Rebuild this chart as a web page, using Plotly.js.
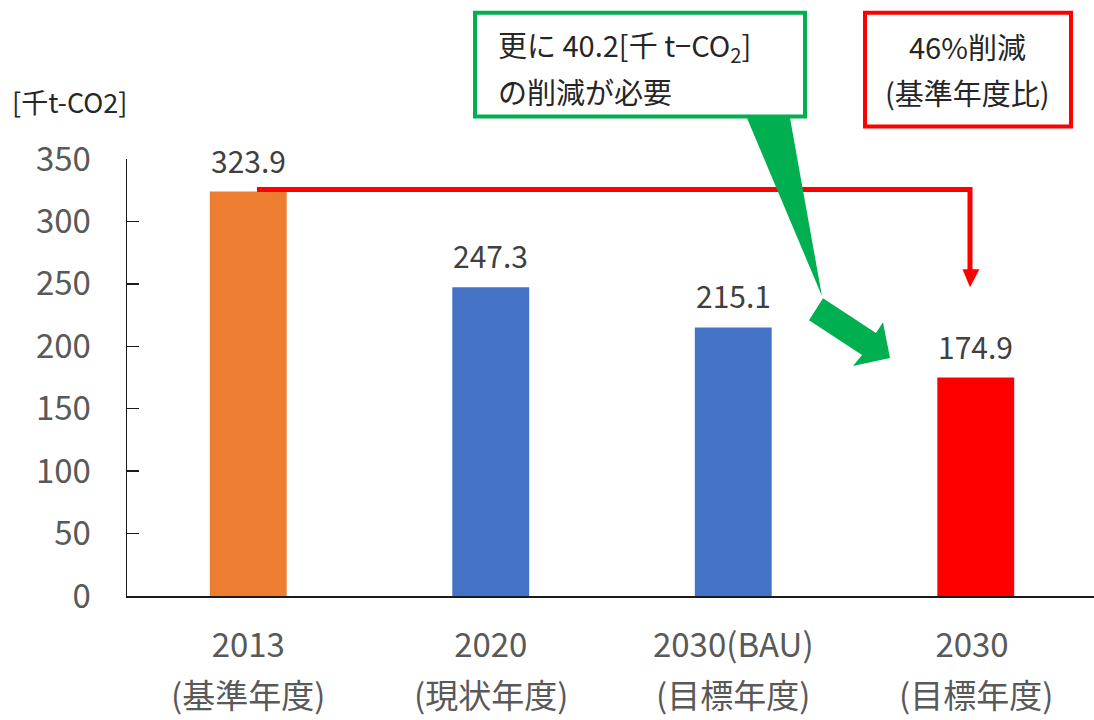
<!DOCTYPE html>
<html>
<head>
<meta charset="utf-8">
<script src="https://cdn.plot.ly/plotly-3.0.1.min.js"></script>
<style>html,body{margin:0;padding:0;background:#fff;}#chart{width:1094px;height:720px;}</style>
</head>
<body>
<div id="chart"></div>
<script>
// ---- data ----
const categories = ["2013", "2020", "2030(BAU)", "2030 "];
const categoryNotes = ["(基準年度)", "(現状年度)", "(目標年度)", "(目標年度)"];
const values = [323.9, 247.3, 215.1, 174.9];
const barColors = ["#ED7D31", "#4472C4", "#4472C4", "#FF0000"];
const yTicks = [0, 50, 100, 150, 200, 250, 300, 350];
const unitLabel = "[千t-CO2]";
const greenLines = ["更に 40.2[千 t−CO<sub>2</sub>]", "の削減が必要"];
const redLines = ["46%削減", "(基準年度比)"];

// ---- layout geometry helpers (pixel -> paper) ----
const W = 1094, H = 720;
const L = 127, R = 0, T = 158.5, B = 123.5;
const pw = W - L - R, ph = H - T - B;
const px = v => (v - L) / pw;
const py = v => (H - B - v) / ph;

const FONT = "'Noto Sans CJK JP', 'Noto Sans', sans-serif";

const trace = {
  type: "bar",
  x: categories,
  y: values,
  marker: {color: barColors},
  width: 0.317,
  hoverinfo: "x+y",
  cliponaxis: false
};

// annotations on a category axis are placed by category index
const labelAnns = values.map((v, i) => ({
  x: i, y: v, xref: "x", yref: "y",
  text: v.toFixed(1), showarrow: false,
  xanchor: "center", yanchor: "bottom", yshift: 8,
  font: {family: FONT, size: 30, color: "#404040"}
}));

const noteAnns = categoryNotes.map((t, i) => ({
  x: i, y: py(695), xref: "x", yref: "paper",
  text: t, showarrow: false,
  xanchor: "center", yanchor: "middle",
  font: {family: FONT, size: 33, color: "#595959"}
}));

const poly = pts => "M " + pts.map(p => px(p[0]) + "," + py(p[1])).join(" L ") + " Z";
const line = pts => "M " + pts.map(p => px(p[0]) + "," + py(p[1])).join(" L ");

const shapes = [
  // red bracket line
  {type: "path", xref: "paper", yref: "paper",
   path: line([[257, 189], [970, 189], [970, 270]]),
   line: {color: "#FF0000", width: 5}},
  {type: "path", xref: "paper", yref: "paper",
   path: poly([[962.5, 269], [979.5, 269], [970, 287]]),
   fillcolor: "#FF0000", line: {color: "#FF0000", width: 0}},
  // green callout box
  {type: "rect", xref: "paper", yref: "paper",
   x0: px(475), x1: px(805), y0: py(12), y1: py(116),
   fillcolor: "#FFFFFF", line: {color: "#00B050", width: 4}},
  {type: "path", xref: "paper", yref: "paper",
   path: poly([[747, 117.5], [790, 117.5], [822, 296]]),
   fillcolor: "#00B050", line: {color: "#00B050", width: 0}},
  // green thick arrow
  {type: "path", xref: "paper", yref: "paper",
   path: poly([[823, 298], [876, 333], [883, 322], [890, 358], [853, 366], [862, 355], [809, 320]]),
   fillcolor: "#00B050", line: {color: "#00B050", width: 0}},
  // red box
  {type: "rect", xref: "paper", yref: "paper",
   x0: px(865), x1: px(1071), y0: py(12), y1: py(126),
   fillcolor: "#FFFFFF", line: {color: "#FF0000", width: 4}}
];

const otherAnns = [
  {xref: "paper", yref: "paper", x: px(69), y: py(101), text: unitLabel, showarrow: false,
   xanchor: "center", yanchor: "middle", font: {family: FONT, size: 27, color: "#262626"}},
  {xref: "paper", yref: "paper", x: px(496), y: py(45), text: greenLines[0], showarrow: false,
   xanchor: "left", yanchor: "middle", font: {family: FONT, size: 29, color: "#262626"}},
  {xref: "paper", yref: "paper", x: px(496), y: py(90), text: greenLines[1], showarrow: false,
   xanchor: "left", yanchor: "middle", font: {family: FONT, size: 29, color: "#262626"}},
  {xref: "paper", yref: "paper", x: px(967), y: py(45), text: redLines[0], showarrow: false,
   xanchor: "center", yanchor: "middle", font: {family: FONT, size: 29, color: "#262626"}},
  {xref: "paper", yref: "paper", x: px(967), y: py(91), text: redLines[1], showarrow: false,
   xanchor: "center", yanchor: "middle", font: {family: FONT, size: 29, color: "#262626"}}
];

const layout = {
  width: W, height: H,
  margin: {l: L, r: R, t: T, b: B, pad: 0},
  paper_bgcolor: "#FFFFFF", plot_bgcolor: "#FFFFFF",
  showlegend: false,
  xaxis: {
    type: "category",
    range: [-0.5, -0.5 + pw / 242.5],
    showline: true, linecolor: "#1a1a1a", linewidth: 1.5,
    ticks: "", showgrid: false, zeroline: false,
    tickfont: {family: FONT, size: 33, color: "#595959"},
    ticklabelstandoff: 20,
    fixedrange: true
  },
  yaxis: {
    range: [0, 350],
    tickvals: yTicks,
    showline: true, linecolor: "#1a1a1a", linewidth: 1.5,
    ticks: "inside", ticklen: 12, tickwidth: 1.5, tickcolor: "#1a1a1a",
    showgrid: false, zeroline: false,
    tickfont: {family: FONT, size: 33, color: "#595959"},
    ticklabelstandoff: 28,
    fixedrange: true
  },
  shapes: shapes,
  annotations: labelAnns.concat(noteAnns, otherAnns)
};

Plotly.newPlot("chart", [trace], layout, {displayModeBar: false, staticPlot: true});
</script>
</body>
</html>
